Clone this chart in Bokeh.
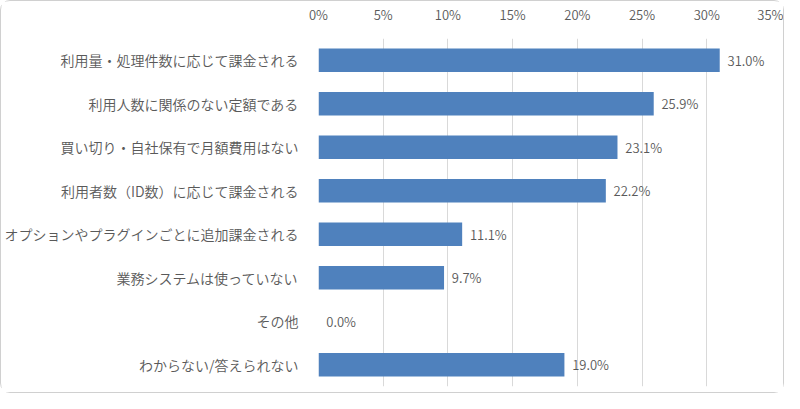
from bokeh.plotting import figure
from bokeh.models import ColumnDataSource, FactorRange, FixedTicker, PrintfTickFormatter
from bokeh.core.properties import value
from bokeh.embed import file_html
from bokeh.resources import INLINE

# data
categories = ["利用量・処理件数に応じて課金される", "利用人数に関係のない定額である",
              "買い切り・自社保有で月額費用はない", "利用者数（ID数）に応じて課金される",
              "オプションやプラグインごとに追加課金される", "業務システムは使っていない",
              "その他", "わからない/答えられない"]
values = [31.0, 25.9, 23.1, 22.2, 11.1, 9.7, 0.0, 19.0]
x_ticks = [0, 5, 10, 15, 20, 25, 30, 35]

FONT = "'Noto Sans CJK JP DemiLight', 'Noto Sans CJK JP Light', 'Noto Sans CJK JP'"
GREY = "#595959"

src = ColumnDataSource(data=dict(
    cat=categories,
    val=values,
    lx=[v + 0.6 for v in values],
    lab=[f"{v:.1f}%" for v in values],
))

p = figure(width=784, height=393, output_backend="svg", toolbar_location=None,
           y_range=FactorRange(*categories[::-1]), x_range=(0, 35),
           x_axis_location="above", min_border_left=316, min_border_right=14,
           min_border_top=34, min_border_bottom=8)
p.styles = {"border": "1px solid #d0d0d0", "border-radius": "10px"}
p.outline_line_color = None

p.hbar(y="cat", right="val", left=0, height=0.54, source=src,
       fill_color="#4F81BD", line_color=None)
p.text(x="lx", y="cat", text="lab", source=src, text_font=value(FONT),
       text_font_size="13px", text_color=GREY, text_baseline="middle")

xa = p.xaxis[0]
xa.ticker = FixedTicker(ticks=x_ticks)
xa.formatter = PrintfTickFormatter(format="%d%%")
xa.axis_line_color = None
xa.major_tick_line_color = None
xa.minor_tick_line_color = None
xa.major_label_text_font = FONT
xa.major_label_text_font_size = "13px"
xa.major_label_text_color = GREY
xa.major_label_standoff = 9

ya = p.yaxis[0]
ya.axis_line_color = None
ya.major_tick_line_color = None
ya.major_label_text_font = FONT
ya.major_label_text_font_size = "14px"
ya.major_label_text_color = GREY
ya.major_label_standoff = 14

p.xgrid.ticker = FixedTicker(ticks=x_ticks)
p.xgrid.grid_line_color = "#d9d9d9"
p.ygrid.grid_line_color = None
p.y_range.range_padding = 0

open("out.html", "w").write(file_html(p, INLINE))
